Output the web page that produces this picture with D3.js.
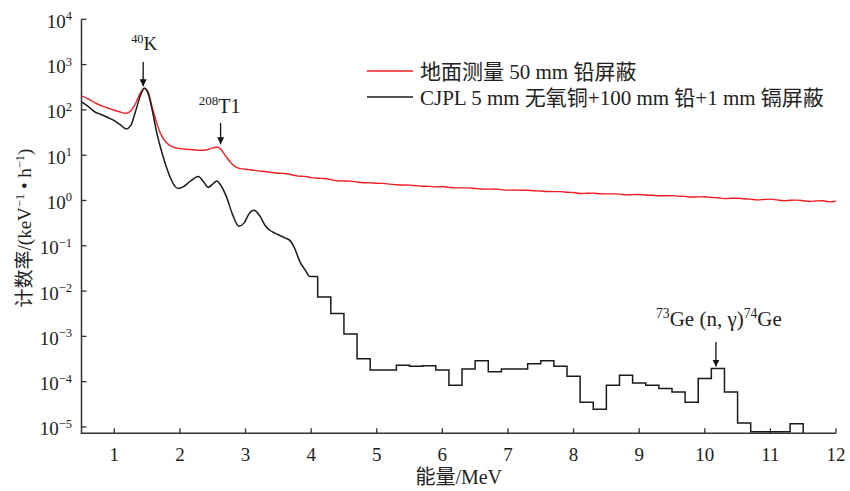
<!DOCTYPE html>
<html><head><meta charset="utf-8">
<script src="https://cdn.jsdelivr.net/npm/d3@7"></script>
<style>body{margin:0;background:#fff}svg{display:block}</style>
</head><body>
<svg id="chart" width="850" height="491"></svg>
<script>
// ---------- data ----------
const redEnergy = [0.5,0.6,0.7,0.8,0.9,1.0,1.1,1.17,1.25,1.32,1.4,1.46,1.52,1.58,1.64,1.70,1.80,1.9,2.0,2.1,2.2,2.3,2.4,2.5,2.56,2.62,2.7,2.8,2.86,2.95,
  3.0,3.1,3.2,3.3,3.4,3.5,3.6,3.7,3.8,3.9,4.0,4.1,4.2,4.3,4.4,4.5,4.6,4.7,4.8,4.9,5.0,5.1,5.2,5.3,5.4,5.5,5.6,5.7,5.8,5.9,
  6.0,6.1,6.2,6.3,6.4,6.5,6.6,6.7,6.8,6.9,7.0,7.1,7.2,7.3,7.4,7.5,7.6,7.7,7.8,7.9,8.0,8.1,8.2,8.3,8.4,8.5,8.6,8.7,8.8,8.9,
  9.0,9.1,9.2,9.3,9.4,9.5,9.6,9.7,9.8,9.9,10.0,10.1,10.2,10.3,10.4,10.5,10.6,10.7,10.8,10.9,11.0,11.1,11.2,11.3,11.4,11.5,11.6,11.7,11.8,11.9,12.0];
const redRate = [204,176,145,124,110,98,89,84,95,135,240,300,240,110,55,31,18.5,15,14,13.5,13.2,12.8,13,14.5,15,13.8,9.5,6.3,5.4,5.0,
  4.9,4.7,4.5,4.35,4.15,4.0,3.95,3.7,3.45,3.4,3.2,3.1,3.05,2.9,2.72,2.7,2.68,2.55,2.47,2.45,2.4,2.38,2.3,2.22,2.2,2.18,2.12,2.06,2.05,2.0,
  2.03,1.95,1.9,1.9,1.9,1.84,1.79,1.78,1.79,1.74,1.69,1.70,1.68,1.68,1.64,1.62,1.58,1.57,1.57,1.52,1.50,1.43,1.44,1.45,1.41,1.40,1.40,1.38,1.33,1.35,
  1.36,1.32,1.30,1.27,1.27,1.28,1.25,1.23,1.19,1.20,1.21,1.16,1.15,1.10,1.12,1.12,1.09,1.07,1.03,1.05,1.07,1.03,0.99,1.01,1.02,0.99,0.95,0.98,0.99,0.93,0.97];

const blackEnergy = [0.5,0.6,0.7,0.8,0.9,1.0,1.1,1.18,1.25,1.32,1.4,1.46,1.52,1.58,1.64,1.70,1.78,1.85,1.92,1.97,2.05,2.15,2.28,2.36,2.43,2.50,2.56,2.62,2.71,2.80,
  2.90,2.98,3.05,3.13,3.22,3.30,3.37,3.45,3.52,3.60,3.68,3.75,3.83,3.91,3.98,4.1];
const blackRate = [150,120,91,79,68,58,46,38,45,89,210,300,220,95,35,15.5,6.3,3.3,2.1,1.85,2.0,2.6,3.4,2.6,1.95,2.3,2.7,2.2,1.2,0.5,
  0.27,0.32,0.5,0.61,0.45,0.28,0.22,0.19,0.17,0.15,0.13,0.087,0.044,0.029,0.021,0.021];

const binStart = [4.1,4.3,4.5,4.7,4.9,5.1,5.3,5.5,5.7,5.9,6.1,6.3,6.5,6.7,6.9,7.1,7.3,7.5,7.7,7.9,8.1,8.3,8.5,8.7,8.9,9.1,9.3,9.5,9.7,9.9,10.1,10.3,10.5,10.7,10.9,11.1,11.3];
const binRate = [7.4e-3,3.2e-3,1.13e-3,3.2e-4,1.8e-4,1.8e-4,2.3e-4,2.2e-4,2.25e-4,1.8e-4,8.3e-5,1.9e-4,2.9e-4,1.66e-4,1.9e-4,1.9e-4,2.5e-4,2.9e-4,2.2e-4,1.32e-4,
  3.5e-5,2.45e-5,8.3e-5,1.38e-4,9.3e-5,8.3e-5,7.1e-5,5.9e-5,3.5e-5,1.17e-4,1.95e-4,5.9e-5,1.23e-5,7.8e-6,7.8e-6,7.8e-6,1.17e-5];
const binWidth = 0.2;

const xTickValues = [1,2,3,4,5,6,7,8,9,10,11,12];
const yExponents = [4,3,2,1,0,-1,-2,-3,-4,-5];
const legendLabels = ["地面测量 50 mm 铅屏蔽", "CJPL 5 mm 无氧铜+100 mm 铅+1 mm 镉屏蔽"];
const seriesColors = ["#f01e23", "#1a1a1a"];

// ---------- layout ----------
const svg = d3.select("#chart");
const x = d3.scaleLinear().domain([0.5, 12]).range([81.5, 836]);
const y = d3.scaleLog().domain([Math.pow(10, -5.14), 1e4]).range([433.3, 19.3]);
const serif = "'Liberation Serif','Times New Roman','Noto Sans CJK SC',serif";
const axisColor = "#333";

// axes
svg.append("line").attr("x1", x(0.5)).attr("x2", x(0.5)).attr("y1", y(1e4)).attr("y2", y.range()[0])
  .attr("stroke", axisColor).attr("stroke-width", 1.5);
svg.append("line").attr("x1", x(0.5) - 0.75).attr("x2", x(12)).attr("y1", y.range()[0]).attr("y2", y.range()[0])
  .attr("stroke", axisColor).attr("stroke-width", 1.5);

// x ticks (inward)
const xt = svg.append("g");
xTickValues.forEach(v => {
  xt.append("line").attr("x1", x(v)).attr("x2", x(v)).attr("y1", y.range()[0]).attr("y2", y.range()[0] - 5)
    .attr("stroke", axisColor).attr("stroke-width", 1.3);
  xt.append("text").attr("x", x(v)).attr("y", 461).attr("text-anchor", "middle")
    .attr("font-family", serif).attr("font-size", 19).attr("fill", "#222").text(v);
});

// y ticks (inward) with superscript labels
const yt = svg.append("g");
yExponents.forEach(e => {
  const yy = y(Math.pow(10, e));
  yt.append("line").attr("x1", x(0.5)).attr("x2", x(0.5) + 5).attr("y1", yy).attr("y2", yy)
    .attr("stroke", axisColor).attr("stroke-width", 1.3);
  const t = yt.append("text").attr("x", 72).attr("y", yy + 8.5).attr("text-anchor", "end")
    .attr("font-family", serif).attr("font-size", 19).attr("fill", "#222");
  t.append("tspan").text("10");
  t.append("tspan").attr("font-size", 12.5).attr("dy", -7.5).text(e < 0 ? "\u2212" + (-e) : e);
});

// axis titles
svg.append("text").attr("x", (x(0.5) + x(12)) / 2).attr("y", 484).attr("text-anchor", "middle")
  .attr("font-family", serif).attr("font-size", 20).attr("fill", "#222").text("能量/MeV");

const yl = svg.append("text").attr("transform", "translate(31,228) rotate(-90)").attr("text-anchor", "middle")
  .attr("font-family", serif).attr("font-size", 19).attr("fill", "#222");
yl.append("tspan").text("计数率/(keV");
yl.append("tspan").attr("font-size", 12.5).attr("dy", -7).text("\u22121");
yl.append("tspan").attr("dy", 7).text(" \u2022 h");
yl.append("tspan").attr("font-size", 12.5).attr("dy", -7).text("\u22121");
yl.append("tspan").attr("dy", 7).text(")");

// ---------- series ----------
const redPts = redEnergy.map((e, i) => [e, redRate[i]]);
const blackPts = blackEnergy.map((e, i) => [e, blackRate[i]]);
const lineSmooth = d3.line().x(d => x(d[0])).y(d => y(d[1])).curve(d3.curveMonotoneX);

svg.append("path").attr("d", lineSmooth(redPts)).attr("fill", "none")
  .attr("stroke", seriesColors[0]).attr("stroke-width", 1.4).attr("stroke-linejoin", "round");

svg.append("path").attr("d", lineSmooth(blackPts)).attr("fill", "none")
  .attr("stroke", seriesColors[1]).attr("stroke-width", 1.5).attr("stroke-linejoin", "round");

// histogram (step) part
const stepPts = [[binStart[0], blackRate[blackRate.length - 1]]];
binStart.forEach((s, i) => { stepPts.push([s, binRate[i]]); stepPts.push([s + binWidth, binRate[i]]); });
stepPts.push([binStart[binStart.length - 1] + binWidth, y.domain()[0]]);
const lineStep = d3.line().x(d => x(d[0])).y(d => y(d[1])).curve(d3.curveStepAfter);
svg.append("path").attr("d", lineStep(stepPts)).attr("fill", "none")
  .attr("stroke", seriesColors[1]).attr("stroke-width", 1.5);

// ---------- annotations ----------
const defs = svg.append("defs");
defs.append("marker").attr("id", "ah").attr("viewBox", "0 0 10 10").attr("refX", 10).attr("refY", 5)
  .attr("markerWidth", 7).attr("markerHeight", 7).attr("markerUnits", "userSpaceOnUse").attr("orient", "auto")
  .append("path").attr("d", "M0,0 L10,5 L0,10 Z").attr("fill", "#111");

function arrow(e, yTop, yTip) {
  svg.append("line").attr("x1", x(e)).attr("x2", x(e)).attr("y1", yTop).attr("y2", yTip)
    .attr("stroke", "#111").attr("stroke-width", 1.3).attr("marker-end", "url(#ah)");
}
function label(cx, baseline, size, parts) {
  const t = svg.append("text").attr("x", cx).attr("y", baseline).attr("text-anchor", "middle")
    .attr("font-family", serif).attr("font-size", size).attr("fill", "#222");
  let up = false;
  const sub = size * 0.65, sh = size * 0.38;
  parts.forEach(p => {
    const ts = t.append("tspan").text(p[0]);
    if (p[1]) { ts.attr("font-size", sub); if (!up) { ts.attr("dy", -sh); up = true; } }
    else if (up) { ts.attr("dy", sh); up = false; }
  });
}

// 40K
arrow(1.44, 62, y(300) - 2);
label(x(1.44) + 1, 50, 19, [["40", true], ["K", false]]);
// 208Tl
arrow(2.62, 123, y(15) - 3);
label(x(2.62) - 1, 113, 20, [["208", true], ["T1", false]]);
// 73Ge(n,γ)74Ge
arrow(10.17, 342, y(1.95e-4) - 2);
label(x(10.17) + 3, 326, 21, [["73", true], ["Ge (n, \u03b3)", false], ["74", true], ["Ge", false]]);

// ---------- legend ----------
const lg = svg.append("g");
legendLabels.forEach((lab, i) => {
  const ly = 71 + i * 26;
  lg.append("line").attr("x1", 367).attr("x2", 413).attr("y1", ly).attr("y2", ly)
    .attr("stroke", seriesColors[i]).attr("stroke-width", 1.4);
  lg.append("text").attr("x", 420).attr("y", ly + 7.5).attr("font-family", serif).attr("font-size", 21)
    .attr("fill", "#222").text(lab);
});
</script>
</body></html>
